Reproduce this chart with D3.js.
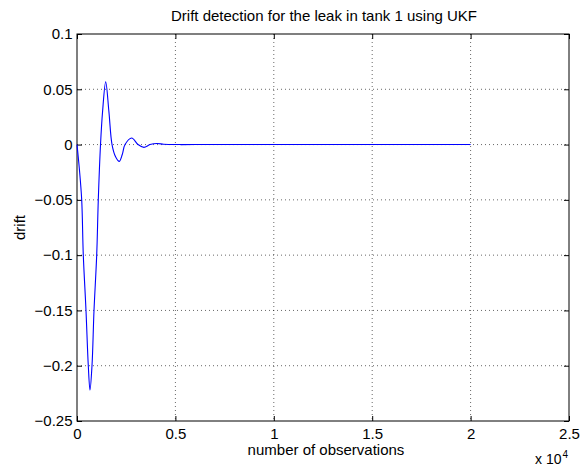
<!DOCTYPE html>
<html>
<head>
<meta charset="utf-8">
<script src="https://cdn.jsdelivr.net/npm/d3@7"></script>
<style>
  body { margin: 0; background: #fff; }
  svg text { font-family: "Liberation Sans", Arial, sans-serif; fill: #000; }
</style>
</head>
<body>
<div id="chart"></div>
<script>
// drift (observations, drift)
const observations = [0, 120, 239, 320, 457, 574, 660, 762, 864, 1001, 1082, 1195, 1300, 1458, 1620, 1780, 1960, 2150, 2300, 2440, 2780, 3100, 3400, 3710, 4065, 4400, 4725, 5200, 6000, 10000, 15000, 20000];
const drift        = [0, -0.022, -0.05, -0.1, -0.15, -0.2, -0.222, -0.2, -0.15, -0.1, -0.05, 0, 0.03, 0.0567, 0.03, 0, -0.011, -0.0152, -0.009, 0, 0.006, 0, -0.0025, 0, 0.001, 0.0003, 0.0001, 0, 0, 0, 0, 0];
const xTicks = [0, 5000, 10000, 15000, 20000, 25000];
const yTicks = [0.1, 0.05, 0, -0.05, -0.1, -0.15, -0.2, -0.25];

const width = 583, height = 467;
const margin = { top: 34, right: 14, bottom: 46, left: 77 };
const fontSize = 15;

const svg = d3.select('#chart').append('svg')
  .attr('width', width)
  .attr('height', height);

const xScale = d3.scaleLinear().domain([0, 25000]).range([margin.left, width - margin.right]);
const yScale = d3.scaleLinear().domain([-0.25, 0.1]).range([height - margin.bottom, margin.top]);

const fmtY = d => (d < 0 ? '\u2212' : '') + String(Math.abs(+d.toFixed(2)));
const fmtX = d => String(d / 10000);

// dotted grid
const grid = svg.append('g').attr('stroke', '#000').attr('stroke-width', 0.6).attr('stroke-dasharray', '1,3');
grid.selectAll('.gx').data(xTicks.slice(1, -1)).join('line')
  .attr('x1', d => xScale(d)).attr('x2', d => xScale(d))
  .attr('y1', margin.top).attr('y2', height - margin.bottom);
grid.selectAll('.gy').data(yTicks.slice(1, -1)).join('line')
  .attr('y1', d => yScale(d)).attr('y2', d => yScale(d))
  .attr('x1', margin.left).attr('x2', width - margin.right);

// axes with inward ticks
const tickLen = 5;
svg.append('g')
  .attr('transform', `translate(0, ${height - margin.bottom})`)
  .call(d3.axisBottom(xScale).tickValues(xTicks).tickFormat(fmtX).tickSizeInner(-tickLen).tickSizeOuter(0))
  .call(g => g.select('.domain').remove())
  .call(g => g.selectAll('.tick text').attr('dy', null).attr('y', 17.5));
svg.append('g')
  .attr('transform', `translate(0, ${margin.top})`)
  .call(d3.axisTop(xScale).tickValues(xTicks).tickFormat('').tickSizeInner(-tickLen).tickSizeOuter(0))
  .call(g => g.select('.domain').remove());
svg.append('g')
  .attr('transform', `translate(${margin.left}, 0)`)
  .call(d3.axisLeft(yScale).tickValues(yTicks).tickFormat(fmtY).tickSizeInner(-tickLen).tickSizeOuter(0))
  .call(g => g.select('.domain').remove())
  .call(g => g.selectAll('.tick text').attr('x', -4.5));
svg.append('g')
  .attr('transform', `translate(${width - margin.right}, 0)`)
  .call(d3.axisRight(yScale).tickValues(yTicks).tickFormat('').tickSizeInner(-tickLen).tickSizeOuter(0))
  .call(g => g.select('.domain').remove());

svg.selectAll('.tick text').attr('font-size', fontSize).attr('font-family', '"Liberation Sans", Arial, sans-serif');

// box
svg.append('rect')
  .attr('x', margin.left).attr('y', margin.top)
  .attr('width', width - margin.left - margin.right)
  .attr('height', height - margin.top - margin.bottom)
  .attr('fill', 'none').attr('stroke', '#000').attr('stroke-width', 1);

// the drift line
const line = d3.line()
  .x((d, i) => xScale(observations[i]))
  .y(d => yScale(d))
  .curve(d3.curveCatmullRom.alpha(0.5));

svg.append('path')
  .datum(drift)
  .attr('fill', 'none')
  .attr('stroke', '#0000ff')
  .attr('stroke-width', 1.1)
  .attr('d', line);

// labels
svg.append('text')
  .attr('x', 324).attr('y', 20.5)
  .attr('text-anchor', 'middle').attr('font-size', fontSize)
  .text('Drift detection for the leak in tank 1 using UKF');

svg.append('text')
  .attr('x', 326).attr('y', 455)
  .attr('text-anchor', 'middle').attr('font-size', fontSize)
  .text('number of observations');

svg.append('text')
  .attr('transform', `translate(25, ${(margin.top + height - margin.bottom) / 2}) rotate(-90)`)
  .attr('text-anchor', 'middle').attr('font-size', fontSize)
  .text('drift');

const mult = svg.append('text').attr('x', 535).attr('y', 464.3).attr('font-size', 14);
mult.append('tspan').text('x 10');
mult.append('tspan').attr('dx', 1).attr('dy', -6.5).attr('font-size', 10).text('4');
</script>
</body>
</html>
